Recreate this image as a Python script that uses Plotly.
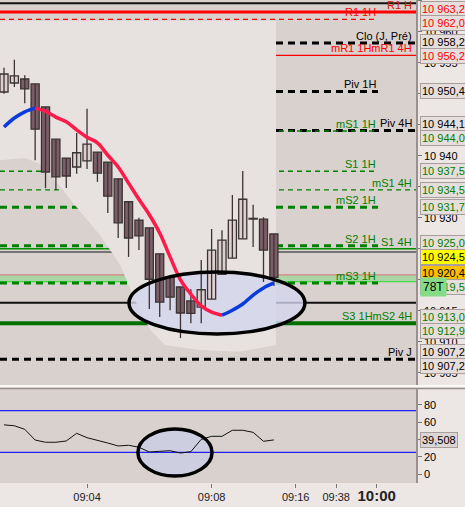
import plotly.graph_objects as go

# ---------------- data ----------------
idx = list(range(27))
opens  = [10950.3, 10951.75, 10952.4, 10951.6, 10947.9, 10942.7, 10939.65, 10938.2, 10939.2, 10940.6,
          10939.0, 10936.3, 10932.6, 10929.65, 10928.4, 10924.2, 10920.5, 10918.85, 10916.6, 10915.6,
          10916.9, 10920.9, 10923.5, 10926.6, 10929.9, 10929.8, 10927.4]
highs  = [10954.2, 10955.5, 10953.0, 10951.6, 10947.9, 10942.7, 10939.65, 10943.7, 10947.6, 10940.6,
          10939.0, 10936.3, 10932.6, 10930.0, 10928.4, 10924.2, 10920.5, 10918.85, 10918.5, 10923.2,
          10928.2, 10928.0, 10933.7, 10937.55, 10932.1, 10930.1, 10927.4]
lows   = [10950.0, 10951.1, 10948.5, 10939.3, 10934.8, 10934.5, 10934.8, 10937.1, 10937.9, 10935.8,
          10930.8, 10926.75, 10923.7, 10924.8, 10915.3, 10914.0, 10915.1, 10910.6, 10913.0, 10913.0,
          10916.9, 10920.9, 10923.5, 10926.6, 10925.3, 10919.65, 10919.0]
closes = [10953.2, 10952.9, 10950.8, 10944.3, 10937.4, 10936.6, 10936.75, 10940.5, 10941.9, 10937.2,
          10933.5, 10929.2, 10926.75, 10927.1, 10920.1, 10916.4, 10917.2, 10914.65, 10914.6, 10918.4,
          10924.8, 10926.4, 10929.65, 10933.0, 10929.8, 10924.8, 10920.4]
ma     = [10944.65, 10946.1, 10947.1, 10947.7, 10947.2, 10946.25, 10945.5, 10944.2, 10943.0, 10942.1,
          10940.1, 10938.2, 10935.6, 10933.0, 10930.5, 10927.55, 10923.7, 10920.0, 10917.7, 10915.8,
          10914.8, 10914.3, 10915.1, 10916.1, 10917.55, 10918.7, 10919.5]
osc    = [57.0, 55.9, 51.8, 39.4, 36.8, 36.8, 38.3, 47.2, 42.1, 39.4, 35.9, 32.5, 33.3, 31.0, 25.5,
          26.3, 27.0, 24.3, 25.9, 40.2, 43.7, 43.7, 50.7, 50.7, 48.3, 37.9, 39.508]
osc_levels = [73.5, 25.0]

# background cloud band
cloud_x     = [-0.4, 2.0, 3.3, 4.9, 6.8, 9.25, 11.2, 12.6, 14.1, 15.5, 18.9, 22.7, 26.2]
cloud_lower = [10939.3, 10939.65, 10938.85, 10936.1, 10932.1, 10927.2, 10922.4, 10916.75, 10911.9,
               10909.5, 10908.7, 10908.4, 10909.5]
cloud_upper = [10961.8] * len(cloud_x)

# price levels
level_names  = ["", "R1 H", "R1 1H", "Clo (J, Pré)", "mR1 1HmR1 4H", "Piv 1H", "Piv 4H", "mS1 1H",
                "S1 1H", "mS1 4H", "mS2 1H", "S2 1H", "S1 4H", "", "", "mS3 1H", "", "S3 1HmS2 4H", "Piv J"]
level_values = [10964.6, 10963.2, 10962.0, 10958.2, 10956.2, 10950.4, 10944.1, 10944.0,
                10937.5, 10934.5, 10931.7, 10925.5, 10925.0, 10924.5, 10920.8, 10919.5, 10916.3, 10913.0, 10907.2]
level_kinds  = ["blk", "red_thick", "red_dash", "blk_dash", "red_thin", "blk_dash_1h", "blk_dash", "grn_dash_thin_1h",
                "grn_dash_thin_1h", "grn_dash_thin", "grn_dash_1h", "grn_dash_1h", "grn_solid", "grey", "red_faint",
                "grn_dash_1h", "blk", "grn_thick", "blk_dash"]

# right-hand value boxes
box_values = [10963.2, 10962.0, 10958.2, 10956.2, 10950.4, 10944.1, 10944.0, 10937.5, 10934.5, 10931.7,
              10925.0, 10924.5, 10920.4, 10919.5, 10913.0, 10912.9, 10907.2, 10907.2]
box_kinds  = ["red", "red", "blk", "red", "blk", "blk", "grn", "grn", "grn", "grn",
              "grn", "yellow", "orange", "grn", "grn", "grn", "blk", "blk"]

price_ticks = [10905, 10910, 10915, 10920, 10925, 10930, 10935, 10940, 10945, 10950, 10955, 10960, 10965]
time_ticks_pos = [8, 20, 28.1, 32, 35.9]
time_ticks_txt = ["09:04", "09:08", "09:16", "09:38", "10:00"]

# ---------------- geometry / style ----------------
W, H = 465, 507
MR, MB = 49, 24
PW, PH = W - MR, H - MB
main_bot_px, sub_top_px = 385, 388
y_main = [10903.04, 10965.14]
y_sub = [-10.43, 99.7]
x_rng = [-0.385, 39.69]
FONT = "Liberation Sans, Arial, sans-serif"

RED, GRN, BLK = "#ff0000", "#008000", "#000000"
style = {
    "blk":            dict(color="#111", width=2, dash="solid", full=True),
    "red_thick":      dict(color="#ff0000", width=3, dash="solid", full=True),
    "red_dash":       dict(color="#ff0000", width=1.2, dash="5px,4px", full=False),
    "blk_dash":       dict(color="#000", width=3, dash="7px,5px", full=True),
    "blk_dash_1h":    dict(color="#000", width=3, dash="7px,5px", full=False),
    "red_thin":       dict(color="#ff0000", width=1.2, dash="solid", full=True),
    "grn_dash_thin_1h": dict(color="#008000", width=1.5, dash="5px,4px", full=False),
    "grn_dash_thin":  dict(color="#008000", width=1.3, dash="5px,4px", full=True),
    "grn_dash_1h":    dict(color="#008000", width=3, dash="7px,5px", full=False),
    "grn_solid":      dict(color="#009000", width=1.5, dash="solid", full=True),
    "grey":           dict(color="#555", width=1.5, dash="solid", full=True),
    "red_faint":      dict(color="#d07070", width=1, dash="solid", full=True),
    "grn_thick":      dict(color="#007000", width=4, dash="solid", full=True),
}
label_color = {"R1 H": "#d02000", "R1 1H": RED, "Clo (J, Pré)": BLK, "mR1 1HmR1 4H": RED, "Piv 1H": BLK,
               "Piv 4H": BLK, "mS1 1H": GRN, "S1 1H": GRN, "mS1 4H": GRN, "mS2 1H": GRN, "S2 1H": GRN,
               "S1 4H": GRN, "mS3 1H": GRN, "S3 1HmS2 4H": GRN, "Piv J": BLK}
box_style = {"red": (RED, "#e6dedc"), "blk": (BLK, "#e6dedc"), "grn": (GRN, "#e6dedc"),
             "yellow": (BLK, "#ffff00"), "orange": (BLK, "#f8c000")}
END_1H = 378 / PW
END_FULL = 1.0

dom_main = [(PH - main_bot_px) / PH, 1]
dom_sub = [0, (PH - sub_top_px) / PH]


def fmt(v):
    s = f"{v:.1f}".replace(".", ",")
    return s[:2] + " " + s[2:]


fig = go.Figure()
shapes = []

# cloud as a background path in data coordinates
pts = list(zip(cloud_x, cloud_upper)) + list(zip(cloud_x[::-1], cloud_lower[::-1]))
cloud_path = "M " + " L ".join(f"{x},{y}" for x, y in pts) + " Z"
shapes.append(dict(type="path", xref="x", yref="y", path=cloud_path, fillcolor="#e7e2e0",
                   line=dict(width=0), layer="below"))

ell_main = dict(x0=12.04, x1=28.99, y0=10911.27, y1=10921.26)
ell_sub = dict(x0=12.9, x1=20.04, y0=-2.3, y1=52.2)
shapes.append(dict(type="circle", xref="x", yref="y", **ell_main, fillcolor="rgba(212,214,238,0.8)",
                   line=dict(width=0), layer="below"))
shapes.append(dict(type="circle", xref="x2", yref="y2", **ell_sub, fillcolor="#cdcedf",
                   line=dict(width=0), layer="below"))

shapes.append(dict(type="rect", xref="paper", yref="y", x0=0, x1=1, y0=10919.7, y1=10920.8,
                   fillcolor="rgba(140,215,140,0.6)", line=dict(width=0), layer="below"))
shapes.append(dict(type="line", xref="paper", yref="y", x0=0, x1=1, y0=10919.7, y1=10919.7,
                   line=dict(color="#44dd44", width=1.2), layer="below"))

annotations = []
for name, v, kind in zip(level_names, level_values, level_kinds):
    st = style[kind]
    x1 = END_FULL if st["full"] else END_1H
    shapes.append(dict(type="line", xref="paper", yref="y", x0=0, x1=x1, y0=v, y1=v,
                       line=dict(color=st["color"], width=st["width"], dash=st["dash"]), layer="below"))
    if name:
        annotations.append(dict(xref="paper", yref="y", x=x1 if x1 < 1 else 414 / PW, y=v,
                                xanchor="right", yanchor="bottom", text=name, showarrow=False,
                                font=dict(family=FONT, size=11, color=label_color[name]), yshift=-1))

# candles: wicks + bodies
wx, wy = [], []
for i, h, l in zip(idx, highs, lows):
    wx += [i, i, None]
    wy += [l, h, None]
fig.add_trace(go.Scatter(x=wx, y=wy, mode="lines", line=dict(color="#3b3333", width=1.3),
                         hoverinfo="skip", xaxis="x", yaxis="y", showlegend=False))
body_base = [min(o, c) for o, c in zip(opens, closes)]
body_h = [max(abs(c - o), 0.12) for o, c in zip(opens, closes)]
body_col = ["#dccfcf" if c > o else "#7b5d68" for o, c in zip(opens, closes)]
fig.add_trace(go.Bar(x=idx, y=body_h, base=body_base, width=0.78, marker=dict(color=body_col,
                     line=dict(color="#3b3333", width=1.3)), hoverinfo="skip", xaxis="x", yaxis="y",
                     showlegend=False))

# moving average coloured by slope
seg_start = 0
for i in range(1, len(ma) + 1):
    if i == len(ma) or (i < len(ma) - 1 and (ma[i + 1] - ma[i] > 0) != (ma[i] - ma[i - 1] > 0)):
        end = min(i, len(ma) - 1)
        up = ma[end] > ma[seg_start]
        fig.add_trace(go.Scatter(x=idx[seg_start:end + 1], y=ma[seg_start:end + 1], mode="lines",
                                 line=dict(color="#0a3cdc" if up else "#ff1a4a", width=3.5, shape="spline"),
                                 hoverinfo="skip", xaxis="x", yaxis="y", showlegend=False))
        seg_start = end

# oscillator
for lv in osc_levels:
    shapes.append(dict(type="line", xref="x2", yref="y2", x0=x_rng[0], x1=x_rng[1], y0=lv, y1=lv,
                       line=dict(color="#2020ff", width=1.2), layer="below"))
fig.add_trace(go.Scatter(x=idx, y=osc, mode="lines", line=dict(color="#111", width=1),
                         hoverinfo="skip", xaxis="x2", yaxis="y2", showlegend=False))

shapes.append(dict(type="circle", xref="x", yref="y", **ell_main, line=dict(color="#000", width=3.5), layer="above"))
shapes.append(dict(type="circle", xref="x2", yref="y2", **ell_sub, line=dict(color="#000", width=3.5), layer="above"))

for yp, col in [(386, "#ffffff"), (388.5, "#9a9090")]:
    shapes.append(dict(type="line", xref="paper", yref="paper", x0=0, x1=W / PW, y0=(PH - yp) / PH,
                       y1=(PH - yp) / PH, line=dict(color=col, width=1.5)))

# right value boxes with de-overlap
px = [(y_main[1] - v) / (y_main[1] - y_main[0]) * main_bot_px for v in box_values]
order = sorted(range(len(px)), key=lambda k: px[k])
pos = [px[k] for k in order]
GAP = 14
for _ in range(300):
    for j in range(len(pos) - 1):
        d = pos[j + 1] - pos[j]
        if d < GAP:
            m = (GAP - d) / 2
            pos[j] -= m
            pos[j + 1] += m
adj = [0] * len(px)
for j, k in enumerate(order):
    adj[k] = pos[j]
for k, (v, kind) in enumerate(zip(box_values, box_kinds)):
    tc, bg = box_style[kind]
    annotations.append(dict(xref="paper", yref="y", x=1, xshift=4, xanchor="left", y=v, yanchor="middle",
                            yshift=-(adj[k] - px[k]), text=fmt(v), showarrow=False, bgcolor=bg,
                            bordercolor="#a89e9c", borderwidth=1, borderpad=1, align="left",
                            font=dict(family=FONT, size=11, color=tc)))
k78 = box_values.index(10919.5)
annotations.append(dict(xref="paper", yref="y", x=1, xshift=4, xanchor="left", y=10919.5, yanchor="middle",
                        yshift=-(adj[k78] - px[k78]), text="78T", showarrow=False, bgcolor="#86dc86",
                        borderpad=2, font=dict(family=FONT, size=12, color="#000")))
annotations.append(dict(xref="paper", yref="y2", x=1, xshift=4, xanchor="left", y=osc[-1], yanchor="middle",
                        text=f"{osc[-1]:.3f}".replace(".", ","), showarrow=False, bgcolor="#ddd5d3",
                        bordercolor="#a89e9c", borderwidth=1, borderpad=1,
                        font=dict(family=FONT, size=11, color="#000")))

time_txt = [t if t != "10:00" else '<b><span style="font-size:15px">10:00</span></b>' for t in time_ticks_txt]

fig.update_layout(
    width=W, height=H, margin=dict(l=0, r=MR, t=0, b=MB),
    paper_bgcolor="#ece6e4", plot_bgcolor="#d9d1ce",
    font=dict(family=FONT, size=11, color="#000"),
    showlegend=False, barmode="overlay",
    xaxis=dict(domain=[0, 1], range=x_rng, anchor="y", showticklabels=False, showgrid=False, zeroline=False,
               matches="x2"),
    yaxis=dict(domain=dom_main, range=y_main, side="right", anchor="x", showgrid=False, zeroline=False,
               tickvals=price_ticks, ticktext=[fmt(v)[:-2] for v in price_ticks], ticks="outside",
               ticklen=4, tickcolor="#777", showline=True, linecolor="#9a9090", linewidth=1.5,
               tickfont=dict(size=11, color="#000")),
    xaxis2=dict(domain=[0, 1], range=x_rng, anchor="y2", showgrid=False, zeroline=False,
                tickvals=time_ticks_pos, ticktext=time_txt, ticks="outside", ticklen=4, tickcolor="#777",
                tickfont=dict(size=11, color="#222")),
    yaxis2=dict(domain=dom_sub, range=y_sub, side="right", anchor="x2", showgrid=False, zeroline=False,
                tickvals=[0, 20, 40, 60, 80], ticks="outside", ticklen=4, tickcolor="#777",
                showline=True, linecolor="#9a9090", linewidth=1.5, tickfont=dict(size=11, color="#000")),
    shapes=shapes, annotations=annotations,
)

fig.write_html("out.html", config={"displayModeBar": False},
               post_script="document.body.style.margin='0';document.body.style.overflow='hidden';")
